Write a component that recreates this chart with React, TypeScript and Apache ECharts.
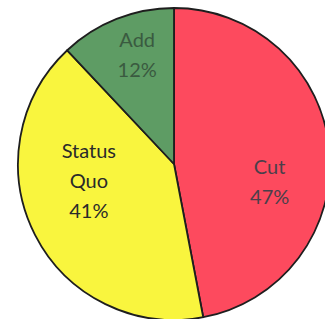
import React, { useEffect, useRef } from "react";
import * as echarts from "echarts";

const categories = ["Cut", "Status Quo", "Add"];
const values = [47, 41, 12];
const colors = ["#FD4A5E", "#F9F53E", "#5E9C64"];
const textColors = ["#4A3F4A", "#2A2A2A", "#3A5A40"];
const labelShift: [number, number][] = [[15, 25], [-13, -21], [-7, -35]];

export default function App() {
  const ref = useRef<HTMLDivElement>(null);
  useEffect(() => {
    if (!ref.current) return;
    const chart = echarts.init(ref.current, undefined, { renderer: "svg" });
    chart.setOption({
      animation: false,
      backgroundColor: "#ffffff",
      series: [
        {
          type: "pie",
          center: [174, 164],
          radius: 156,
          startAngle: 90,
          clockwise: true,
          data: categories.map((name, i) => ({
            name,
            value: values[i],
            itemStyle: { color: colors[i] },
            label: { color: textColors[i] },
          })),
          itemStyle: { borderColor: "#1e1e1e", borderWidth: 1.8 },
          label: {
            show: true,
            position: "inside",
            fontFamily: "Lato",
            fontSize: 20,
            lineHeight: 30,
            align: "center",
            formatter: (p: any) => `${p.name.replace(" ", "\n")}\n${p.value}%`,
          },
          labelLine: { show: false },
          labelLayout: (p: any) => ({ dx: labelShift[p.dataIndex][0], dy: labelShift[p.dataIndex][1] }),
          emphasis: { disabled: true },
        },
      ],
    });
    return () => chart.dispose();
  }, []);
  return (
    <div
      ref={ref}
      style={{ position: "fixed", left: 0, top: 0, width: 325, height: 319 }}
    />
  );
}
